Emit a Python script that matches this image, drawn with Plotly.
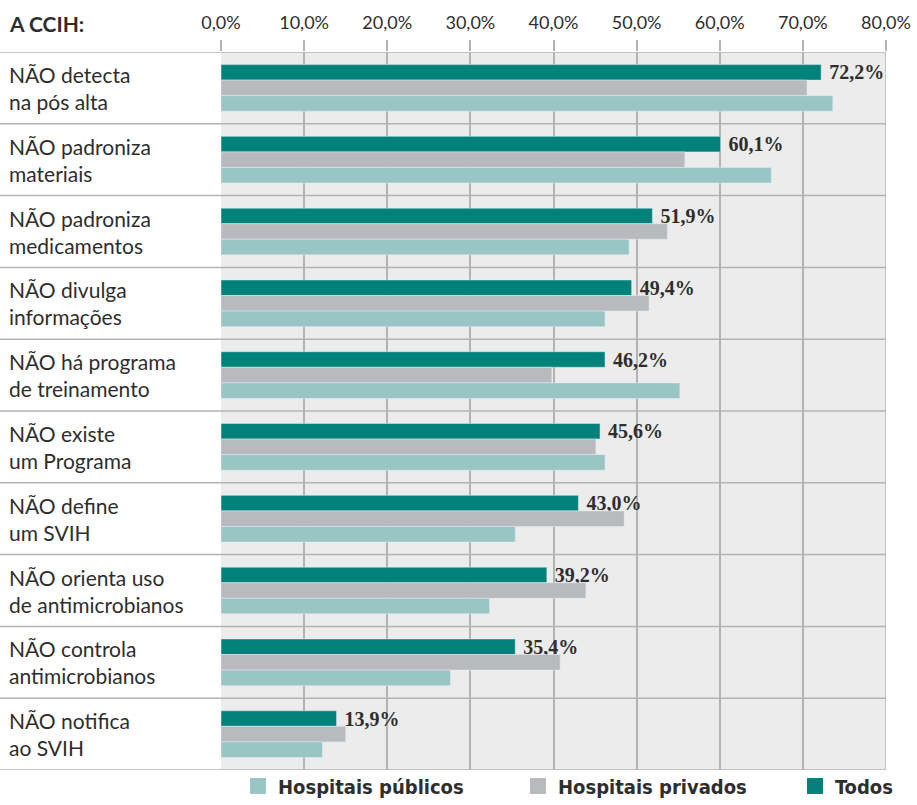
import plotly.graph_objects as go

categories = [
    "NÃO detecta<br>na pós alta",
    "NÃO padroniza<br>materiais",
    "NÃO padroniza<br>medicamentos",
    "NÃO divulga<br>informações",
    "NÃO há programa<br>de treinamento",
    "NÃO existe<br>um Programa",
    "NÃO define<br>um SVIH",
    "NÃO orienta uso<br>de antimicrobianos",
    "NÃO controla<br>antimicrobianos",
    "NÃO notifica<br>ao SVIH",
]
todos = [72.2, 60.1, 51.9, 49.4, 46.2, 45.6, 43.0, 39.2, 35.4, 13.9]
privados = [70.5, 55.8, 53.7, 51.5, 39.8, 45.1, 48.5, 43.9, 40.8, 15.0]
publicos = [73.6, 66.2, 49.1, 46.2, 55.2, 46.2, 35.4, 32.3, 27.6, 12.2]
tick_vals = [0, 10, 20, 30, 40, 50, 60, 70, 80]
tick_labels = ["0,0%", "10,0%", "20,0%", "30,0%", "40,0%", "50,0%", "60,0%", "70,0%", "80,0%"]

C_TODOS = "#00827b"
C_PRIV = "#b9babe"
C_PUB = "#9ac5c5"
GRID = "#b3b3b3"
TXT = "#2e2e2e"
LBL_FONT = "Lato, Noto Sans"
LEG_FONT = "Liberation Sans Narrow, DejaVu Sans Condensed"

yidx = list(range(len(categories)))

fig = go.Figure()
fig.add_trace(go.Bar(
    y=yidx, x=todos, orientation="h", name="Todos", marker_color=C_TODOS,
    text=todos, texttemplate="<b>\u00a0%{x:.1f}%</b>", textposition="outside",
    constraintext="none",
    textfont=dict(family="Liberation Serif, DejaVu Serif", size=20, color=TXT),
    cliponaxis=False, showlegend=False,
))
fig.add_trace(go.Bar(
    y=yidx, x=privados, orientation="h", name="Hospitais privados",
    marker_color=C_PRIV, showlegend=False,
))
fig.add_trace(go.Bar(
    y=yidx, x=publicos, orientation="h", name="Hospitais públicos",
    marker_color=C_PUB, showlegend=False,
))

# legend entries (one legend each, positioned like the reference)
for name, col, lg in [("Hospitais públicos", C_PUB, "legend"),
                      ("Hospitais privados", C_PRIV, "legend2"),
                      ("Todos", C_TODOS, "legend3")]:
    fig.add_trace(go.Scatter(
        x=[None], y=[None], mode="markers", name="<b>" + name + "</b>",
        marker=dict(symbol="square", size=16, color=col),
        legend=lg, showlegend=True,
    ))

L, R, T, B = 221, 31, 52, 35
W, H = 917, 805
pw = W - L - R

shapes = []
for i in range(len(categories) + 1):
    shapes.append(dict(
        type="line", xref="paper", yref="y", x0=-L / pw, x1=1,
        y0=i - 0.5, y1=i - 0.5, line=dict(color=GRID, width=1.5), layer="above",
    ))
shapes.append(dict(type="line", xref="x", yref="paper", x0=80, x1=80, y0=0, y1=1,
                   line=dict(color=GRID, width=1.5)))

annotations = []
for i, c in enumerate(categories):
    annotations.append(dict(
        xref="paper", yref="y", x=-(L - 7) / pw, y=i, text=c,
        xanchor="left", yanchor="middle", align="left", showarrow=False,
        font=dict(family=LBL_FONT, size=21, color=TXT),
    ))
annotations.append(dict(
    xref="paper", yref="paper", x=-(L - 7) / pw, y=1 + 28 / (H - T - B),
    text="<b>A CCIH:</b>", xanchor="left", yanchor="middle", showarrow=False,
    font=dict(family=LBL_FONT, size=21, color=TXT),
))

def leg(xpx):
    return dict(
        orientation="h", xref="container", yref="container",
        x=xpx / W, xanchor="left", y=1 - 786 / H, yanchor="middle",
        font=dict(family=LEG_FONT, size=20, color=TXT),
        bgcolor="rgba(0,0,0,0)", itemsizing="trace",
    )

fig.update_layout(
    width=W, height=H,
    margin=dict(l=L, r=R, t=T, b=B, pad=0, autoexpand=False),
    paper_bgcolor="white", plot_bgcolor="#ececec",
    barmode="group", bargap=0.35, bargroupgap=0,
    separators=",.",
    showlegend=True,
    legend=leg(238), legend2=leg(518), legend3=leg(795),
    shapes=shapes,
    annotations=annotations,
    xaxis=dict(
        range=[0, 80], side="top", tickmode="array",
        tickvals=tick_vals, ticktext=tick_labels,
        showgrid=True, gridcolor=GRID, gridwidth=1.5,
        zeroline=False, ticks="outside", ticklen=11, tickcolor=GRID, tickwidth=1.5,
        ticklabelstandoff=4,
        tickfont=dict(family=LBL_FONT, size=18, color=TXT),
        showline=False, fixedrange=True,
    ),
    yaxis=dict(
        range=[len(categories) - 0.5, -0.5], showticklabels=False,
        showgrid=False, zeroline=False, showline=False, ticks="",
    ),
)

fig.write_html("out.html")
